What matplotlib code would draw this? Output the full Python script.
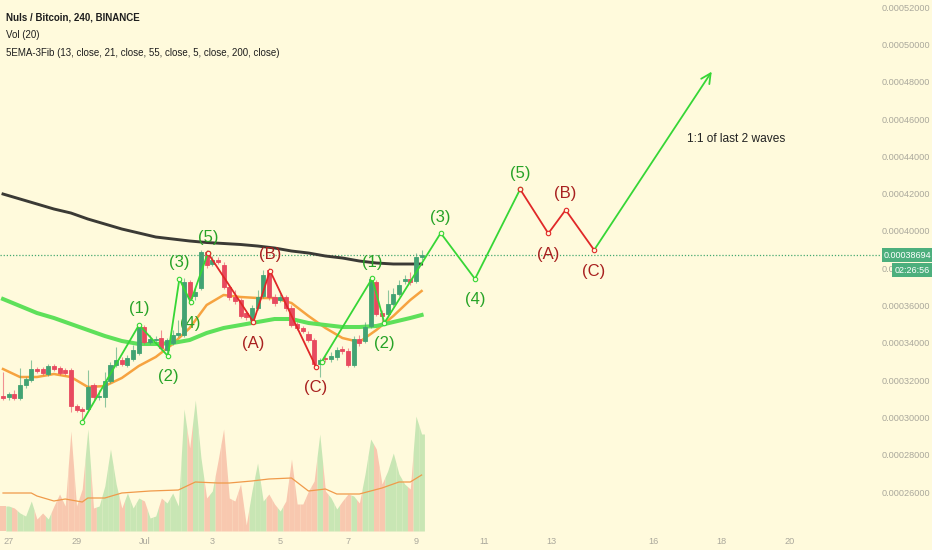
import matplotlib
matplotlib.use("Agg")
import matplotlib.pyplot as plt
import numpy as np

plt.rcParams['font.family'] = ['Liberation Sans', 'DejaVu Sans']

# Nuls / BTC, Binance, 4h candles, prices in satoshi (1e-8 BTC)
# first candle = 26 Jun 20:00, x axis counts days from 27 Jun 00:00
opens = [31152, 31099, 31260, 31045, 31742, 32010, 32600, 32600, 32332, 32761,
         32654, 32547, 32547, 30616, 30456, 30456, 31742, 31099, 31099, 31957,
         32815, 33083, 32815, 33136, 33458, 34852, 34048, 34155, 34262, 33619,
         33994, 34423, 34423, 37265, 36514, 36943, 38874, 38230, 38445, 38177,
         36997, 36461, 36300, 35603, 35228, 35871, 36514, 37909, 36461, 36300,
         36461, 35871, 35013, 34799, 34477, 34155, 32868, 33190, 33136, 33244,
         33673, 33565, 32815, 34209, 34102, 34906, 37265, 35603, 35549, 36086,
         36622, 37319, 37426, 37319, 38606]
closes = [31045, 31260, 31045, 31742, 32064, 32600, 32493, 32386, 32761, 32600,
          32386, 32386, 30616, 30402, 30348, 31635, 31099, 31152, 31957, 32815,
          33083, 32868, 33190, 33619, 34852, 34048, 34209, 34209, 33726, 34155,
          34423, 34531, 37265, 36407, 36729, 38874, 38177, 38445, 38338, 36997,
          36461, 36246, 35442, 35388, 35871, 36461, 37640, 36461, 36139, 36461,
          35871, 34959, 34799, 34638, 34155, 32868, 33083, 33136, 33297, 33619,
          33565, 32815, 34209, 33994, 34852, 37426, 35549, 35442, 36086, 36622,
          37104, 37426, 37265, 38606, 38694]
highs = [32439, 31367, 31474, 32654, 32171, 33083, 32707, 32707, 32868, 32868,
         32761, 32654, 32654, 30724, 30563, 32547, 31850, 31474, 32439, 32976,
         33780, 33244, 33351, 33887, 34959, 34959, 34423, 34370, 34691, 34262,
         34691, 35228, 37480, 37372, 36943, 38981, 38981, 38659, 38606, 38338,
         37104, 36836, 36407, 35764, 36032, 36836, 37909, 38016, 36622, 36622,
         36568, 36032, 35120, 34906, 34638, 34262, 33190, 33351, 33512, 33780,
         33833, 33726, 34370, 34423, 35120, 37533, 37372, 35764, 36836, 36943,
         37372, 37640, 37801, 38820, 38981]
lows = [30938, 30938, 30938, 30938, 31581, 31903, 32386, 32278, 32225, 32493,
        32278, 32278, 30295, 30295, 29758, 30348, 30938, 30938, 30563, 31850,
        32707, 32761, 32707, 33029, 33351, 33941, 33941, 34048, 33619, 33297,
        33887, 34316, 34316, 36032, 36300, 36836, 38016, 38123, 38230, 36890,
        36300, 36086, 35335, 35228, 35067, 35764, 36407, 36300, 35978, 36193,
        35710, 34852, 34691, 34531, 34048, 32707, 32171, 32976, 32976, 33083,
        33405, 32707, 32707, 33833, 33994, 34799, 35442, 35067, 35388, 35978,
        36514, 37158, 37104, 37212, 38445]
volumes = [25, 25, 23, 18, 15, 30, 12, 18, 12, 25,
           37, 25, 100, 25, 42, 102, 23, 25, 45, 82,
           47, 23, 38, 23, 33, 30, 13, 15, 33, 28,
           38, 25, 122, 83, 131, 73, 33, 40, 70, 102,
           33, 30, 47, 6, 40, 68, 30, 37, 27, 20,
           30, 72, 27, 27, 40, 50, 97, 40, 33, 22,
           30, 37, 35, 28, 57, 92, 82, 47, 60, 78,
           57, 47, 42, 115, 97]

# moving averages read at some candle indexes
ema_idx = [0, 3, 6, 9, 12, 15, 18, 21, 24, 27, 30, 33, 36, 39, 42, 45, 48, 51, 54, 57, 60, 63, 66, 69, 72, 74]
ema200 = [41984, 41716, 41448, 41179, 40965, 40643, 40375, 40107, 39893, 39678, 39571, 39464, 39383,
          39330, 39276, 39195, 39088, 38927, 38820, 38659, 38552, 38391, 38284, 38230, 38230, 38230]
ema55 = [36354, 35978, 35603, 35335, 35013, 34691, 34370, 34102, 33941, 33941, 33994, 34155, 34531,
         34799, 34959, 35120, 35281, 35281, 35067, 34959, 34852, 34852, 34906, 35120, 35335, 35496]
ema21 = [32600, 32171, 32171, 32332, 32171, 31635, 31688, 32118, 32761, 33244, 33941, 34799, 36032,
         36568, 36461, 36407, 36407, 36139, 35442, 34799, 34262, 34048, 34691, 35442, 36300, 36783]
volma_idx = [0, 5, 6, 9, 11, 14, 15, 18, 21, 26, 31, 34, 38, 40, 44, 47, 51, 54, 57, 59, 63, 67, 70, 72, 74]
volma = [38, 38, 35, 30, 32, 29, 33, 33, 38, 40, 41, 49, 48, 48, 50, 52, 53, 40, 42, 37, 37, 43, 49, 49, 56]

# elliott waves (days, satoshi)
imp1_t = [2.17, 3.84, 4.69, 5.03, 5.36, 5.87]
imp1_p = [29760, 34960, 33300, 37430, 36190, 38820]
imp1_lab = ['', '(1)', '(2)', '(3)', '(4)', '(5)']
abc1_t = [5.87, 7.21, 7.70, 9.05]
abc1_p = [38820, 35120, 37870, 32730]
abc1_lab = ['', '(A)', '(B)', '(C)']
imp2_t = [9.22, 10.71, 11.07, 12.73, 13.74, 15.07]
imp2_p = [32990, 37460, 35070, 39890, 37430, 42240]
imp2_lab = ['', '(1)', '(2)', '(3)', '(4)', '(5)']
abc2_t = [15.07, 15.90, 16.41, 17.25]
abc2_p = [42240, 39870, 41130, 38980]
abc2_lab = ['', '(A)', '(B)', '(C)']
target_t, target_p = 20.76, 48670
last_price = 38694

day_ticks = [0, 2, 4, 6, 8, 10, 12, 14, 16, 19, 21, 23]
day_labels = ['27', '29', 'Jul', '3', '5', '7', '9', '11', '13', '16', '18', '20']

bg = '#fffadc'
up, down = '#42a373', '#e84a5f'
wave_g, wave_r = '#36d636', '#e02828'
lab_g, lab_r = '#27a327', '#a8201f'
sat = 1e-8

fig = plt.figure(figsize=(9.32, 5.5), dpi=100, facecolor=bg)
rect = [0, 19/550, 880/932, 531/550]
xlim = (-0.2552, 25.673)

# volume in its own axes behind the price axes
vax = fig.add_axes(rect, facecolor=bg)
vax.set_xlim(xlim)
vax.set_ylim(0, 531)
vax.axis('off')

t = (np.arange(len(opens)) - 1) / 6
n = len(volumes)
for k in range(n):
    v = volumes[k]
    vl = (volumes[k-1] + v) / 2 if k > 0 else v
    vr = (volumes[k+1] + v) / 2 if k < n - 1 else v
    xs = [t[k] - 1/12, t[k], t[k] + 1/12]
    col = '#c8e6b4' if closes[k] >= opens[k] else '#f8c8af'
    vax.fill_between(xs, 0, [vl, v, vr], color=col, lw=0)
vax.plot(t[volma_idx], volma, color='#f09a4a', lw=0.9)

ax = fig.add_axes(rect, facecolor='none')
ax.set_xlim(xlim)
ax.set_ylim(23914*sat, 52386*sat)
for s in ax.spines.values():
    s.set_visible(False)

# moving averages
ax.plot(t[ema_idx], np.array(ema21)*sat, color='#f6a340', lw=1.8, zorder=2)
ax.plot(t[ema_idx], np.array(ema55)*sat, color='#5ee05a', lw=2.9, zorder=2)
ax.plot(t[ema_idx], np.array(ema200)*sat, color='#3b3a35', lw=2.1, zorder=2)

# candles
for k in range(n):
    o, c = opens[k], closes[k]
    col = up if c >= o else down
    ax.vlines(t[k], lows[k]*sat, highs[k]*sat, color=col, lw=0.8, alpha=0.6, zorder=3)
    ax.bar(t[k], abs(c - o)*sat, bottom=min(o, c)*sat, width=0.12,
           color=col, edgecolor=col, lw=0.6, zorder=3)

ax.axhline(last_price*sat, color='#45a870', ls=(0, (1, 1.5)), lw=0.9, zorder=1)


def waves(ts, ps, labels, col, lcol):
    ax.plot(ts, np.array(ps)*sat, color=col, lw=1.3, zorder=4,
            marker='o', ms=3.2, mfc=bg, mec=col, mew=0.8)
    for i, lab in enumerate(labels):
        if not lab:
            continue
        if i == len(ps) - 1:
            top = ps[i] > ps[i-1]
        else:
            top = ps[i] > ps[i+1]
        dy = 16 if top else -21
        ax.annotate(lab, (ts[i], ps[i]*sat), xytext=(0, dy), textcoords='offset pixels',
                    ha='center', va='center', fontsize=12, color=lcol, zorder=2.5)


waves(imp1_t, imp1_p, imp1_lab, wave_g, lab_g)
waves(abc1_t, abc1_p, abc1_lab, wave_r, lab_r)
waves(imp2_t, imp2_p, imp2_lab, wave_g, lab_g)
waves(abc2_t, abc2_p, abc2_lab, wave_r, lab_r)
ax.annotate('', xy=(target_t, target_p*sat), xytext=(abc2_t[-1], abc2_p[-1]*sat),
            arrowprops=dict(arrowstyle='->,head_length=0.7,head_width=0.35', color=wave_g, lw=1.3),
            zorder=4)
ax.text(19.99, 44940*sat, '1:1 of last 2 waves', fontsize=8.6, color='#222222',
        ha='left', va='center')

# axes
ax.set_xticks(day_ticks)
ax.set_xticklabels(day_labels)
yt = np.arange(26000, 52001, 2000)
ax.set_yticks(yt*sat)
ax.set_yticklabels(['%.8f' % (v*sat) for v in yt])
ax.yaxis.tick_right()
ax.tick_params(axis='both', length=0, colors='#aaa89c', labelsize=6.6)
ax.tick_params(axis='y', pad=1)
ax.tick_params(axis='x', pad=4)

# header
fig.text(6/932, 1-17/550, 'Nuls / Bitcoin, 240, BINANCE', fontsize=7, weight='bold',
         color='#1e1e1e', va='center')
fig.text(6/932, 1-35/550, 'Vol (20)', fontsize=7, color='#1e1e1e', va='center')
fig.text(6/932, 1-53/550, '5EMA-3Fib (13, close, 21, close, 55, close, 5, close, 200, close)',
         fontsize=7, color='#1e1e1e', va='center')

# price and countdown boxes on the axis
fig.text(884/932, 1-255/550, '%.8f' % (last_price*sat), fontsize=6.5, color='white',
         va='center', ha='left', bbox=dict(boxstyle='square,pad=0.25', fc='#4caf7d', ec='none'))
fig.text(930/932, 1-270/550, '02:26:56', fontsize=6.5, color='white', va='center', ha='right',
         bbox=dict(boxstyle='square,pad=0.25', fc='#4caf7d', ec='none'))

fig.savefig('out.png', dpi=100, facecolor=bg)
